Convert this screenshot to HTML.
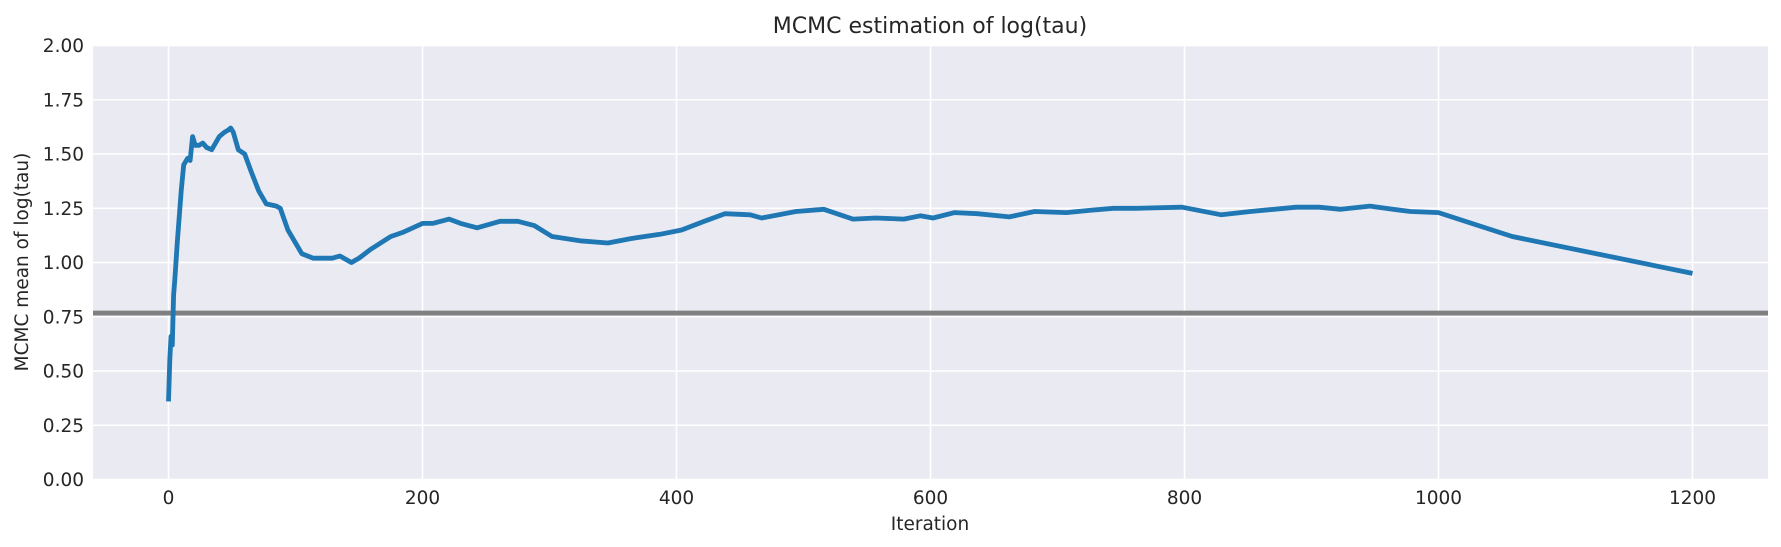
<!DOCTYPE html>
<html><head><meta charset="utf-8"><style>
body{margin:0;background:#fff;}
svg{display:block;font-family:"DejaVu Sans","Liberation Sans",sans-serif;}
</style></head><body>
<svg id="chart" width="1781" height="547" xmlns="http://www.w3.org/2000/svg">
<rect x="93" y="45.5" width="1675" height="434" fill="#eaeaf2"/>
<g id="grid"></g>
<line id="truth" stroke="#808080" stroke-width="4.8"/>
<path id="trace" fill="none" stroke="#1f77b4" stroke-width="4.8" stroke-linejoin="round"/>
<g id="ticks" font-size="18.5" fill="#262626"></g>
<text x="930" y="33" font-size="22" fill="#262626" text-anchor="middle">MCMC estimation of log(tau)</text>
<text x="930" y="530" font-size="18.5" fill="#262626" text-anchor="middle">Iteration</text>
<text x="0" y="0" font-size="18.5" fill="#262626" text-anchor="middle" transform="translate(28,262) rotate(-90)">MCMC mean of log(tau)</text>
</svg>
<script>
const iterations=[0,1,2,3,4,5,7,10,12,15,17,19,21,24,27,30,34,40,44,47,49,51,55,60,65,71,77,85,88,94,105,114,129,135,144,150,159,167,175,185,200,208,221,230,243,261,275,288,302,324,346,364,387,404,422,438,458,467,494,516,539,557,579,592,602,619,637,662,682,707,725,744,762,798,829,852,888,906,923,946,964,978,1000,1058,1200];
const means=[0.36,0.55,0.66,0.62,0.85,0.92,1.10,1.33,1.45,1.48,1.47,1.58,1.54,1.54,1.55,1.53,1.52,1.58,1.60,1.61,1.62,1.60,1.52,1.50,1.42,1.33,1.27,1.26,1.25,1.15,1.04,1.02,1.02,1.03,1.00,1.02,1.06,1.09,1.12,1.14,1.18,1.18,1.20,1.18,1.16,1.19,1.19,1.17,1.12,1.10,1.09,1.11,1.13,1.15,1.19,1.225,1.22,1.205,1.235,1.245,1.20,1.205,1.20,1.215,1.205,1.23,1.225,1.21,1.235,1.23,1.24,1.25,1.25,1.255,1.22,1.235,1.255,1.255,1.245,1.26,1.245,1.235,1.23,1.12,0.95];
const trueValue=0.767;
const xTicks=[0,200,400,600,800,1000,1200];
const yTicks=[0,0.25,0.5,0.75,1.0,1.25,1.5,1.75,2.0];
const X=v=>168.5+v*1.27, Y=v=>479.5-v*217;
const NS="http://www.w3.org/2000/svg";
const grid=document.getElementById('grid'), ticks=document.getElementById('ticks');
xTicks.forEach(t=>{
 const l=document.createElementNS(NS,'line');
 
 
 l.setAttribute('x1',X(t));l.setAttribute('x2',X(t));l.setAttribute('y1',45.5);l.setAttribute('y2',479.5);
 l.setAttribute('stroke','#fff');l.setAttribute('stroke-width','1.6');grid.appendChild(l);
 const s=document.createElementNS(NS,'text');
 
 
 s.setAttribute('x',X(t));s.setAttribute('y',504);s.setAttribute('text-anchor','middle');s.textContent=t;ticks.appendChild(s);
});
yTicks.forEach(t=>{
 const l=document.createElementNS(NS,'line');
 
 
 l.setAttribute('x1',93);l.setAttribute('x2',1768);l.setAttribute('y1',Y(t));l.setAttribute('y2',Y(t));
 l.setAttribute('stroke','#fff');l.setAttribute('stroke-width','1.6');grid.appendChild(l);
 const s=document.createElementNS(NS,'text');
 
 
 s.setAttribute('x',84);s.setAttribute('y',Y(t)+6.5);s.setAttribute('text-anchor','end');s.textContent=t.toFixed(2);ticks.appendChild(s);
});
const tl=document.getElementById('truth');
tl.setAttribute('x1',93);tl.setAttribute('x2',1768);tl.setAttribute('y1',Y(trueValue));tl.setAttribute('y2',Y(trueValue));
document.getElementById('trace').setAttribute('d',iterations.map((it,i)=>(i?'L':'M')+X(it).toFixed(1)+','+Y(means[i]).toFixed(1)).join(''));
</script>
</body></html>
